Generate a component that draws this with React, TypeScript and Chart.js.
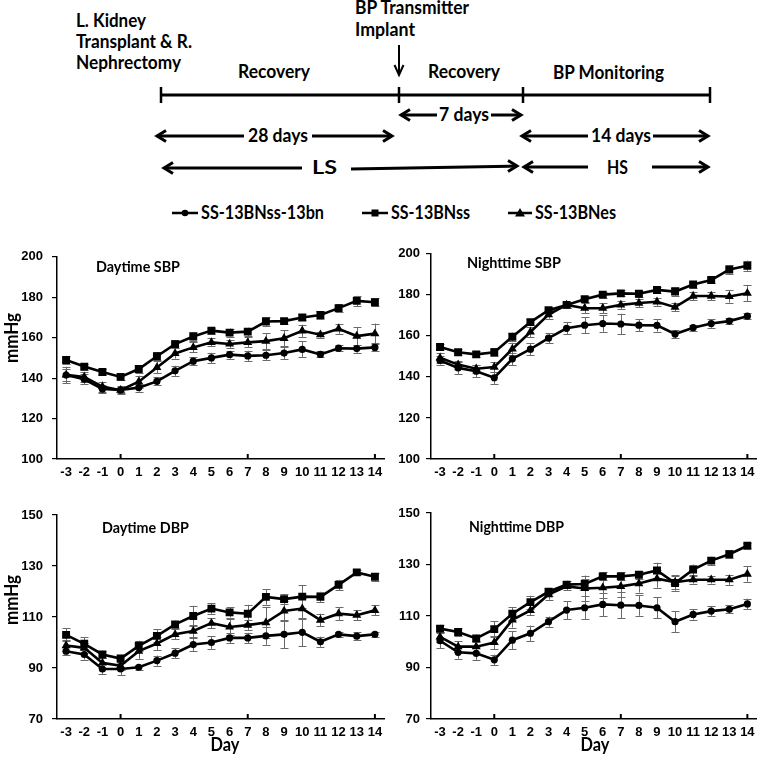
import React, { useEffect, useRef } from "react";
import { Chart, registerables } from "chart.js";

Chart.register(...registerables);

// ---------- data ----------
const days = ["-3", "-2", "-1", "0", "1", "2", "3", "4", "5", "6", "7", "8", "9", "10", "11", "12", "13", "14"];
const seriesNames = ["SS-13BNss-13bn", "SS-13BNss", "SS-13BNes"];
const markerStyles = ["circle", "rect", "triangle"];
const markerRadius = [3.6, 5.6, 5.2];
const majorDays = ["0", "7", "14"];

const sbpTicks = [100, 120, 140, 160, 180, 200];
const dbpTicks = [70, 90, 110, 130, 150];

// Daytime SBP
const daySbpBn = [141.5, 139.4, 134.6, 134.1, 135.3, 138.4, 143.6, 148.4, 150, 151.6, 151, 151.3, 152.4, 154.2, 151.7, 154.8, 154.6, 155.2];
const daySbpSs = [149, 145.7, 143, 140.6, 144.5, 150.8, 156.8, 160.6, 163.5, 162.5, 163, 168, 168.2, 170, 171.2, 174.6, 178.2, 177.5];
const daySbpEs = [141.6, 140.6, 135.8, 134, 138.2, 145.3, 152.2, 155.2, 157.7, 156.9, 157.7, 158.3, 159.7, 163.4, 161.5, 164.4, 160.8, 162];
const daySbpBnErr = [3, 2.5, 2, 1.5, 2, 2, 2.5, 2, 2.5, 2, 2.5, 2.5, 3, 4, 1.5, 1.5, 2, 2];
const daySbpSsErr = [2, 1.5, 1.5, 1.5, 2, 2, 2, 2, 1.5, 2, 2, 2, 1.5, 1.5, 2, 2, 2.5, 2];
const daySbpEsErr = [4, 2.5, 2.5, 2, 3, 3, 2.5, 2.5, 2, 2, 2.5, 4, 4, 3, 1.5, 2.5, 4.5, 5];

// Nighttime SBP
const nightSbpBn = [148, 144.4, 142.8, 139.6, 148.8, 153.5, 158.9, 163.7, 165.2, 166, 165.8, 165.2, 165.1, 160.9, 164, 166, 167.2, 169.6];
const nightSbpSs = [154.6, 152, 151, 152, 159.6, 166.7, 172.5, 175.1, 177.9, 180.1, 180.7, 180.5, 182.4, 181.6, 185, 187.2, 192.3, 194.2];
const nightSbpEs = [149.3, 146, 144, 144.8, 153.6, 161.9, 170.4, 175.1, 173.5, 173.5, 175.1, 176, 176.6, 174, 179.4, 179.4, 179.2, 180.8];
const nightSbpBnErr = [2, 3, 3, 3, 3, 3, 2.5, 3, 4, 4, 5, 3, 3, 2, 1.5, 2, 1.5, 1.5];
const nightSbpSsErr = [1.5, 1.5, 1.5, 2, 2, 1.5, 1.5, 1.5, 1.5, 1.5, 1.5, 1.5, 1.5, 2, 1.5, 1.5, 2, 2.5];
const nightSbpEsErr = [2.5, 2, 2, 2.5, 3, 2.5, 2, 1.5, 2.5, 2.5, 2, 2, 2, 2, 2, 2, 3, 4];

// Daytime DBP
const dayDbpBn = [96.6, 95.3, 89.6, 89.6, 90.3, 92.9, 95.8, 99.2, 100, 101.8, 101.8, 102.6, 103.2, 104, 100.3, 103.2, 102.5, 103.2];
const dayDbpSs = [103, 99.5, 95.3, 93.7, 98.7, 102.6, 107.1, 110.4, 113.3, 111.8, 111.3, 117.9, 117, 118, 117.9, 122.6, 127.5, 125.8];
const dayDbpEs = [98.8, 97.9, 92, 90.9, 96.6, 99.6, 103.2, 104.5, 107.6, 106.1, 106.8, 107.8, 112.4, 113.3, 108.8, 111.3, 110.7, 112.6];
const dayDbpBnErr = [1.5, 2, 2, 2.5, 1, 2, 2, 2.5, 2.5, 2, 2, 3.5, 5.5, 5.5, 2, 1, 1.5, 1];
const dayDbpSsErr = [2.5, 2.5, 1.5, 1.5, 2, 2.5, 1.5, 4, 2, 2, 3.5, 3, 2, 4.5, 2, 2, 1, 1.5];
const dayDbpEsErr = [2, 2, 2, 1.5, 3, 2.5, 2, 2.5, 2, 3, 2, 6, 4, 4, 2.5, 2.5, 2, 2];

// Nighttime DBP
const nightDbpBn = [100.4, 95.9, 95.5, 93, 100.6, 103.3, 107.8, 112.3, 113.2, 114.5, 114.2, 114.1, 113.2, 107.8, 110.6, 111.9, 112.6, 114.7];
const nightDbpSs = [105.1, 103.8, 101.3, 104.9, 110.9, 115.4, 119.4, 122.2, 122.4, 125.4, 125.4, 126, 127.7, 122.8, 128, 131.5, 134, 137.3];
const nightDbpEs = [101.9, 98.1, 98.1, 99.7, 108.5, 112.2, 118.3, 121.5, 120.7, 121, 121.5, 122.6, 124.5, 123.1, 124.1, 124.1, 124.1, 126.3];
const nightDbpBnErr = [3, 2.5, 2.5, 2, 3.5, 3, 2, 3.5, 4.5, 4.5, 5, 4, 4, 4, 2, 2, 1.5, 2];
const nightDbpSsErr = [1.5, 1.5, 1.5, 3, 2.5, 2.5, 1.5, 1.5, 2, 1.5, 1.5, 1.5, 3, 3, 2, 1.5, 1.5, 1];
const nightDbpEsErr = [2, 2, 2, 2.5, 3, 2, 2, 1.5, 5, 4, 4, 3.5, 3.5, 2.5, 1.5, 1.5, 2, 3];

// ---------- fonts ----------
const TICK_FONT = "'Liberation Sans', Arial, sans-serif";
const TEXT_FONT = "Lato, 'Open Sans', sans-serif";

type Series = { values: number[]; errors: number[] };
type PanelSpec = {
  left: number; top: number; width: number; height: number;
  padTop: number; padRight: number; yWidth: number; xHeight: number; yPad: number;
  ticks: number[];
  title: string; titleX: number; titleY: number; titleW: number;
  yTitle?: { x: number; y: number; w: number };
  xTitle?: { x: number; y: number; w: number };
  series: Series[];
};

function fittedText(ctx: CanvasRenderingContext2D, text: string, x: number, y: number, w: number, font: string, rotate = false) {
  ctx.save();
  ctx.font = font;
  ctx.fillStyle = "#000";
  ctx.textBaseline = "middle";
  ctx.textAlign = "left";
  const m = ctx.measureText(text).width;
  const s = w / m;
  ctx.translate(x, y);
  if (rotate) ctx.rotate(-Math.PI / 2);
  ctx.scale(s, 1);
  ctx.fillText(text, rotate ? -m / 2 : 0, 0);
  ctx.restore();
}

function Panel({ spec }: { spec: PanelSpec }) {
  const ref = useRef<HTMLCanvasElement | null>(null);
  useEffect(() => {
    const canvas = ref.current;
    if (!canvas) return;
    const deco = {
      id: "deco",
      beforeDatasetsDraw(chart: any) {
        const ctx = chart.ctx as CanvasRenderingContext2D;
        const ys = chart.scales.y;
        ctx.save();
        ctx.strokeStyle = "#6a6a6a";
        ctx.lineWidth = 1;
        chart.data.datasets.forEach((ds: any, i: number) => {
          const meta = chart.getDatasetMeta(i);
          ds.errors.forEach((e: number, j: number) => {
            const pt = meta.data[j];
            const v = ds.data[j];
            const x = Math.round(pt.x) + 0.5;
            const y1 = ys.getPixelForValue(v + e);
            const y2 = ys.getPixelForValue(v - e);
            ctx.beginPath();
            ctx.moveTo(x, y1); ctx.lineTo(x, y2);
            ctx.moveTo(x - 4, Math.round(y1) + 0.5); ctx.lineTo(x + 4, Math.round(y1) + 0.5);
            ctx.moveTo(x - 4, Math.round(y2) + 0.5); ctx.lineTo(x + 4, Math.round(y2) + 0.5);
            ctx.stroke();
          });
        });
        ctx.restore();
      },
      afterDraw(chart: any) {
        const ctx = chart.ctx as CanvasRenderingContext2D;
        const xs = chart.scales.x;
        const area = chart.chartArea;
        ctx.save();
        ctx.strokeStyle = "#000";
        ctx.lineWidth = 2;
        majorDays.forEach((d) => {
          const x = xs.getPixelForValue(days.indexOf(d));
          ctx.beginPath();
          ctx.moveTo(x, area.bottom);
          ctx.lineTo(x, area.bottom - 5);
          ctx.stroke();
        });
        ctx.restore();
        fittedText(ctx, spec.title, spec.titleX, spec.titleY, spec.titleW, `bold 15px ${TEXT_FONT}`);
        if (spec.yTitle) fittedText(ctx, "mmHg", spec.yTitle.x, spec.yTitle.y, spec.yTitle.w, `bold 18px ${TEXT_FONT}`, true);
        if (spec.xTitle) {
          ctx.save();
          ctx.font = `bold 18px ${TEXT_FONT}`;
          const m = ctx.measureText("Day").width;
          ctx.restore();
          const s = spec.xTitle.w / m;
          fittedText(ctx, "Day", spec.xTitle.x - (m * s) / 2, spec.xTitle.y, spec.xTitle.w, `bold 18px ${TEXT_FONT}`);
        }
      },
    };
    const chart = new Chart(canvas, {
      type: "line",
      data: {
        labels: days,
        datasets: spec.series.map((s, i) => ({
          label: seriesNames[i],
          data: s.values,
          errors: s.errors,
          borderColor: "#000",
          backgroundColor: "#000",
          borderWidth: 2.6,
          pointStyle: markerStyles[i] as any,
          pointRadius: markerRadius[i],
          pointBackgroundColor: "#000",
          pointBorderColor: "#000",
          pointBorderWidth: 0,
          tension: 0,
        })) as any,
      },
      options: {
        animation: false,
        responsive: false,
        events: [],
        layout: { padding: { left: 0, top: spec.padTop, right: spec.padRight, bottom: 0 } },
        plugins: { legend: { display: false }, tooltip: { enabled: false }, title: { display: false } },
        scales: {
          x: {
            type: "category",
            offset: true,
            grid: { display: false, drawTicks: false },
            border: { display: true, color: "#000", width: 1.5 },
            ticks: {
              autoSkip: false, maxRotation: 0, minRotation: 0, padding: 6,
              color: "#000", font: { family: TICK_FONT, size: 13, weight: "bold" },
            },
            afterFit: (sc: any) => { sc.height = spec.xHeight; },
          },
          y: {
            min: spec.ticks[0],
            max: spec.ticks[spec.ticks.length - 1],
            afterBuildTicks: (sc: any) => { sc.ticks = spec.ticks.map((v) => ({ value: v })); },
            grid: { display: true, drawOnChartArea: false, drawTicks: true, tickLength: 5, color: "#000", lineWidth: 1.2 },
            border: { display: true, color: "#000", width: 1.5 },
            ticks: {
              padding: spec.yPad, color: "#000",
              font: { family: TICK_FONT, size: 13, weight: "bold" },
            },
            afterFit: (sc: any) => { sc.width = spec.yWidth; },
          },
        },
      } as any,
      plugins: [deco],
    });
    return () => chart.destroy();
  }, [spec]);
  return (
    <canvas
      ref={ref}
      width={spec.width}
      height={spec.height}
      style={{ position: "absolute", left: spec.left, top: spec.top, width: spec.width, height: spec.height }}
    />
  );
}

const panels: PanelSpec[] = [
  {
    left: 0, top: 240, width: 392, height: 250, padTop: 14, padRight: 8, yWidth: 57, xHeight: 31, yPad: 9,
    ticks: sbpTicks, title: "Daytime SBP", titleX: 96, titleY: 27, titleW: 84,
    yTitle: { x: 12, y: 98, w: 50 },
    series: [
      { values: daySbpBn, errors: daySbpBnErr },
      { values: daySbpSs, errors: daySbpSsErr },
      { values: daySbpEs, errors: daySbpEsErr },
    ],
  },
  {
    left: 392, top: 240, width: 370, height: 250, padTop: 13, padRight: 4, yWidth: 39, xHeight: 31, yPad: 6,
    ticks: sbpTicks, title: "Nighttime SBP", titleX: 75, titleY: 23, titleW: 94,
    series: [
      { values: nightSbpBn, errors: nightSbpBnErr },
      { values: nightSbpSs, errors: nightSbpSsErr },
      { values: nightSbpEs, errors: nightSbpEsErr },
    ],
  },
  {
    left: 0, top: 490, width: 392, height: 274, padTop: 25, padRight: 8, yWidth: 57, xHeight: 45, yPad: 9,
    ticks: dbpTicks, title: "Daytime DBP", titleX: 102, titleY: 38, titleW: 87,
    yTitle: { x: 12, y: 110, w: 50 },
    xTitle: { x: 225, y: 255, w: 29 },
    series: [
      { values: dayDbpBn, errors: dayDbpBnErr },
      { values: dayDbpSs, errors: dayDbpSsErr },
      { values: dayDbpEs, errors: dayDbpEsErr },
    ],
  },
  {
    left: 392, top: 490, width: 370, height: 274, padTop: 23, padRight: 4, yWidth: 39, xHeight: 45, yPad: 6,
    ticks: dbpTicks, title: "Nighttime DBP", titleX: 77, titleY: 37, titleW: 95,
    xTitle: { x: 203, y: 255, w: 29 },
    series: [
      { values: nightDbpBn, errors: nightDbpBnErr },
      { values: nightDbpSs, errors: nightDbpSsErr },
      { values: nightDbpEs, errors: nightDbpEsErr },
    ],
  },
];

function T({ x, y, w, children }: { x: number; y: number; w: number; children: string }) {
  return (
    <text x={x} y={y + 6} textLength={w} lengthAdjust="spacingAndGlyphs">{children}</text>
  );
}

function headL(x: number, y: number) {
  return <polyline points={`${x + 9},${y - 5.5} ${x},${y} ${x + 9},${y + 5.5}`} fill="none" />;
}
function headR(x: number, y: number) {
  return <polyline points={`${x - 9},${y - 5.5} ${x},${y} ${x - 9},${y + 5.5}`} fill="none" />;
}

function Diagram() {
  return (
    <svg width={762} height={235} style={{ position: "absolute", left: 0, top: 0 }}
      fontFamily={TEXT_FONT} fontWeight="bold" fontSize={18} fill="#000">
      <T x={76} y={21} w={70}>L. Kidney</T>
      <T x={76} y={42} w={116}>Transplant &amp; R.</T>
      <T x={76} y={63} w={105}>Nephrectomy</T>
      <T x={355} y={8} w={114}>BP Transmitter</T>
      <T x={355} y={30} w={60}>Implant</T>
      <T x={238} y={72} w={72}>Recovery</T>
      <T x={428} y={72} w={72}>Recovery</T>
      <T x={553} y={73} w={111}>BP Monitoring</T>
      <T x={439} y={115} w={50}>7 days</T>
      <T x={248} y={136} w={60}>28 days</T>
      <T x={591} y={136} w={60}>14 days</T>
      <T x={312} y={168} w={25}>LS</T>
      <T x={607} y={168} w={21}>HS</T>
      <g stroke="#000" strokeWidth={3} fill="none">
        <line x1={161} y1={95} x2={710} y2={95} />
        {[161, 399, 523, 710].map((x) => <line key={x} x1={x} y1={87} x2={x} y2={103} strokeWidth={2.5} />)}
        <line x1={399} y1={45} x2={399} y2={74} strokeWidth={2} />
        <polyline points="394.5,65 399,75 403.5,65" strokeWidth={2} />
        <line x1={401} y1={115} x2={437} y2={115} />
        <line x1={491} y1={115} x2={521} y2={115} />
        {headL(401, 115)}{headR(521, 115)}
        <line x1={157} y1={136} x2={244} y2={136} />
        <line x1={312} y1={136} x2={392} y2={136} />
        {headL(157, 136)}{headR(392, 136)}
        <line x1={522} y1={136} x2={588} y2={136} />
        <line x1={653} y1={136} x2={708} y2={136} />
        {headL(522, 136)}{headR(708, 136)}
        <line x1={164} y1={168} x2={302} y2={168} />
        <line x1={351} y1={169} x2={517} y2={166} />
        {headL(164, 168)}{headR(517, 166)}
        <line x1={524} y1={167} x2={588} y2={167} />
        <line x1={652} y1={167} x2={708} y2={167} />
        {headL(524, 167)}{headR(708, 167)}
      </g>
      {/* legend */}
      <g stroke="#000" strokeWidth={2.5}>
        <line x1={172} y1={213} x2={198} y2={213} />
        <line x1={362} y1={213} x2={388} y2={213} />
        <line x1={508} y1={213} x2={532} y2={213} />
      </g>
      <circle cx={185} cy={213} r={3.3} fill="#000" />
      <rect x={371.5} y={209.5} width={7} height={7} fill="#000" />
      <polygon points="520,208 525,216.5 515,216.5" fill="#000" />
      <T x={201} y={213} w={123}>SS-13BNss-13bn</T>
      <T x={391} y={213} w={79}>SS-13BNss</T>
      <T x={535} y={213} w={81}>SS-13BNes</T>
    </svg>
  );
}

export default function App() {
  return (
    <div style={{ position: "absolute", left: 0, top: 0, width: 762, height: 764, background: "#fff" }}>
      <Diagram />
      {panels.map((p, i) => <Panel key={i} spec={p} />)}
    </div>
  );
}
